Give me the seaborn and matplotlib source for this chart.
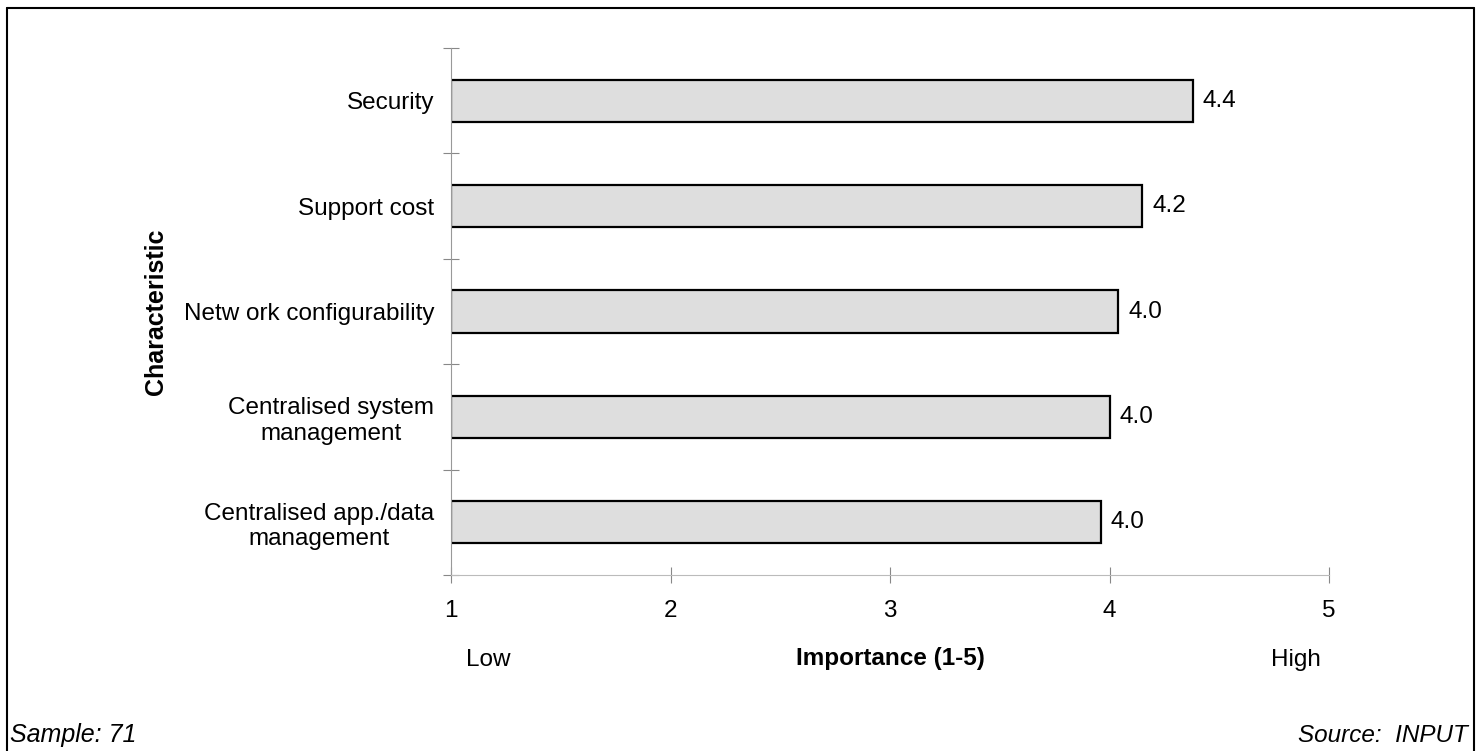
import matplotlib
matplotlib.use("Agg")
import matplotlib.pyplot as plt
import matplotlib.lines as mlines
import seaborn as sns
import pandas as pd

# Survey results: mean importance rating per characteristic
characteristics = [
    "Security",
    "Support cost",
    "Netw ork configurability",
    "Centralised system\nmanagement",
    "Centralised app./data\nmanagement",
]
importance = [4.38, 4.15, 4.04, 4.00, 3.96]
x_ticks = [1, 2, 3, 4, 5]
sample_note = "Sample: 71"
source_note = "Source:  INPUT"

df = pd.DataFrame({"Characteristic": characteristics, "Importance": importance})

sns.set_theme(style="white")
plt.rcParams["font.family"] = ["Liberation Sans", "DejaVu Sans"]
plt.rcParams["text.color"] = "black"
plt.rcParams["axes.labelcolor"] = "black"
plt.rcParams["xtick.labelcolor"] = "black"
plt.rcParams["ytick.labelcolor"] = "black"

FS = 17.5

fig = plt.figure(figsize=(14.77, 7.51), dpi=100)
ax = fig.add_axes([0.3054, 0.2344, 0.5944, 0.7016])

sns.barplot(
    data=df, x="Importance", y="Characteristic", orient="h",
    color="#dedede", edgecolor="black", linewidth=1.6, width=0.4,
    saturation=1, ax=ax,
)

# Bars run from the bottom of the rating scale (1) to each mean score
for patch, val in zip(ax.patches, importance):
    patch.set_x(1)
    patch.set_width(val - 1)

ax.bar_label(ax.containers[0], labels=[f"{v:.1f}" for v in importance],
             padding=7, fontsize=FS, color="black")

ax.set_xlim(1, 5)
ax.set_ylim(4.5, -0.5)
ax.set_xticks(x_ticks)
ax.set_xticklabels([str(t) for t in x_ticks], fontsize=FS)

# Category labels at bar centres, tick marks between categories
ax.set_yticks(range(len(characteristics)))
ax.set_yticklabels(characteristics, fontsize=FS, multialignment="center")
ax.set_yticks([i - 0.5 for i in range(len(characteristics) + 1)], minor=True)
ax.tick_params(axis="y", which="major", length=0, pad=12)
ax.tick_params(axis="y", which="minor", direction="inout", length=12,
               width=0.8, color="#888888", left=True)
ax.tick_params(axis="x", which="major", direction="inout", length=12,
               width=0.8, color="#888888", bottom=True, pad=12)

for side in ["top", "right"]:
    ax.spines[side].set_visible(False)
ax.spines["left"].set_color("#999999")
ax.spines["left"].set_linewidth(0.8)
ax.spines["bottom"].set_color("#bbbbbb")
ax.spines["bottom"].set_linewidth(0.8)

ax.set_xlabel("Importance (1-5)", fontsize=FS, fontweight="bold", labelpad=18)
ax.set_ylabel("Characteristic", fontsize=18, fontweight="bold")
ax.yaxis.set_label_coords(-0.322, 0.5)

trans = ax.get_xaxis_transform()
ax.text(1.17, -0.162, "Low", transform=trans, ha="center", va="center", fontsize=FS)
ax.text(4.85, -0.162, "High", transform=trans, ha="center", va="center", fontsize=FS)

fig.text(0.007, 0.021, sample_note, ha="left", va="center", fontsize=18, style="italic")
fig.text(0.994, 0.021, source_note, ha="right", va="center", fontsize=17.5, style="italic")

# Frame around the figure (open at the bottom)
frame = [
    ([0.0047, 0.0047], [0.0, 0.989]),
    ([0.0047, 0.998], [0.989, 0.989]),
    ([0.998, 0.998], [0.989, 0.0]),
]
for xs, ys in frame:
    fig.add_artist(mlines.Line2D(xs, ys, transform=fig.transFigure,
                                 color="black", linewidth=1.5))

fig.savefig("out.png", dpi=100, facecolor="white")
